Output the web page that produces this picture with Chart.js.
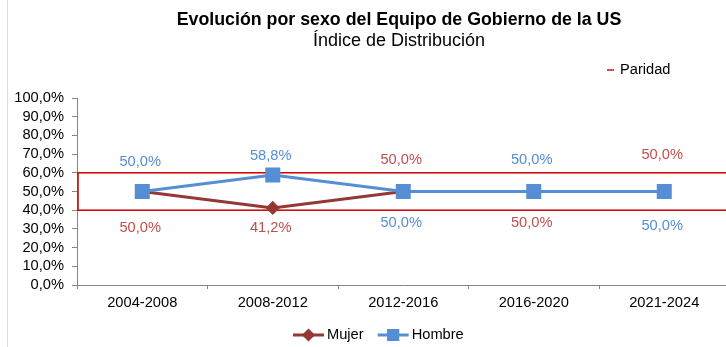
<!DOCTYPE html>
<html lang="es">
<head>
<meta charset="utf-8">
<title>Evolución por sexo del Equipo de Gobierno de la US</title>
<script src="https://cdn.jsdelivr.net/npm/chart.js@4.4.1/dist/chart.umd.min.js"></script>
<style>
  html, body { margin: 0; padding: 0; background: #fff; overflow: hidden; }
  #wrap { position: relative; width: 741px; height: 347px; }
</style>
</head>
<body>
<div id="wrap"><canvas id="chart"></canvas></div>
<script>
const periodos = ['2004-2008', '2008-2012', '2012-2016', '2016-2020', '2021-2024'];
const mujer = [50.0, 41.2, 50.0, 50.0, 50.0];
const hombre = [50.0, 58.8, 50.0, 50.0, 50.0];
const paridad = [40, 60];

const FONT = 'Arial, "Liberation Sans", sans-serif';
const FS = 14.67;

const fmtPct = v => v.toFixed(1).replace('.', ',') + '%';

// adornos: borde, banda de paridad, etiquetas, títulos y leyendas
const adornos = {
  id: 'adornos',
  beforeDraw(chart) {
    const { ctx } = chart;
    ctx.save();
    ctx.strokeStyle = '#d9d9d9';
    ctx.lineWidth = 1;
    ctx.beginPath();
    ctx.moveTo(7.5, 0);
    ctx.lineTo(7.5, chart.height);
    ctx.stroke();
    ctx.restore();
  },
  beforeDatasetsDraw(chart) {
    const { ctx, chartArea, scales: { y } } = chart;
    const top = y.getPixelForValue(paridad[1]);
    const bottom = y.getPixelForValue(paridad[0]);
    ctx.save();
    ctx.strokeStyle = '#cc0000';
    ctx.lineWidth = 1.5;
    ctx.strokeRect(chartArea.left + 1, top, chartArea.right - chartArea.left, bottom - top);
    ctx.restore();
  },
  afterDatasetsDraw(chart) {
    const { ctx } = chart;
    ctx.save();
    ctx.font = `${FS}px ${FONT}`;
    ctx.textAlign = 'center';
    ctx.textBaseline = 'middle';
    chart.data.datasets.forEach((ds, i) => {
      const meta = chart.getDatasetMeta(i);
      ctx.fillStyle = ds.labelColor;
      meta.data.forEach((pt, j) => {
        ctx.fillText(fmtPct(ds.data[j]), pt.x - 2, pt.y + ds.labelOffset[j]);
      });
    });
    ctx.restore();
  },
  afterDraw(chart) {
    const { ctx } = chart;
    ctx.save();

    // títulos
    ctx.fillStyle = '#000';
    ctx.textAlign = 'center';
    ctx.textBaseline = 'middle';
    ctx.font = `bold 17.8px ${FONT}`;
    ctx.fillText('Evolución por sexo del Equipo de Gobierno de la US', 399, 20);
    ctx.font = `18px ${FONT}`;
    ctx.fillText('Índice de Distribución', 399, 41);

    // leyenda de paridad
    ctx.font = `${FS}px ${FONT}`;
    ctx.textAlign = 'left';
    ctx.fillStyle = '#d05050';
    ctx.fillRect(607, 69, 7, 2);
    ctx.fillStyle = '#000';
    ctx.fillText('Paridad', 620, 70);

    // leyenda de series
    const ly = 335;
    const lineLen = 31;
    let x = 293;
    chart.data.datasets.forEach(ds => {
      ctx.strokeStyle = ds.borderColor;
      ctx.lineWidth = 3;
      ctx.beginPath();
      ctx.moveTo(x, ly);
      ctx.lineTo(x + lineLen, ly);
      ctx.stroke();
      Chart.helpers.drawPoint(ctx, {
        pointStyle: ds.pointStyle,
        radius: ds.legendRadius,
        rotation: 0,
        borderWidth: 1
      }, x + lineLen / 2, ly);
      ctx.fillStyle = ds.borderColor;
      ctx.fill();
      ctx.fillStyle = '#000';
      ctx.fillText(ds.label, x + lineLen + 3, ly);
      x += lineLen + 3 + ctx.measureText(ds.label).width + 14;
    });
    ctx.restore();
  }
};

new Chart(document.getElementById('chart'), {
  type: 'line',
  data: {
    labels: periodos,
    datasets: [
      {
        label: 'Mujer',
        data: mujer,
        borderColor: '#953735',
        backgroundColor: '#953735',
        labelColor: '#c0504d',
        labelOffset: [36, 20, -32, 31, -37],
        borderWidth: 3,
        pointStyle: 'rectRot',
        pointRadius: 5,
        legendRadius: 4.5,
        tension: 0,
        order: 2
      },
      {
        label: 'Hombre',
        data: hombre,
        borderColor: '#558ed5',
        backgroundColor: '#558ed5',
        labelColor: '#558ed5',
        labelOffset: [-30, -19, 31, -32, 34],
        borderWidth: 3,
        pointStyle: 'rect',
        pointRadius: 8.5,
        legendRadius: 6.5,
        tension: 0,
        order: 1
      }
    ]
  },
  options: {
    responsive: true,
    maintainAspectRatio: false,
    animation: false,
    layout: { padding: { top: 98, left: 0, right: 0, bottom: 0 } },
    plugins: {
      legend: { display: false },
      tooltip: { enabled: false },
      title: { display: false }
    },
    scales: {
      x: {
        offset: true,
        afterFit: s => { s.height = 62; },
        grid: {
          offset: true,
          drawOnChartArea: false,
          tickLength: 4,
          color: '#868686'
        },
        border: { color: '#868686', width: 1 },
        ticks: {
          color: '#000',
          padding: 5,
          font: { family: FONT, size: FS }
        }
      },
      y: {
        min: 0,
        max: 100,
        afterFit: s => { s.width = 77; },
        grid: {
          drawOnChartArea: false,
          tickLength: 5,
          color: '#868686'
        },
        border: { color: '#868686', width: 1 },
        ticks: {
          stepSize: 10,
          autoSkip: false,
          color: '#000',
          padding: 8,
          font: { family: FONT, size: FS },
          callback: v => fmtPct(v)
        }
      }
    }
  },
  plugins: [adornos]
});
</script>
</body>
</html>
